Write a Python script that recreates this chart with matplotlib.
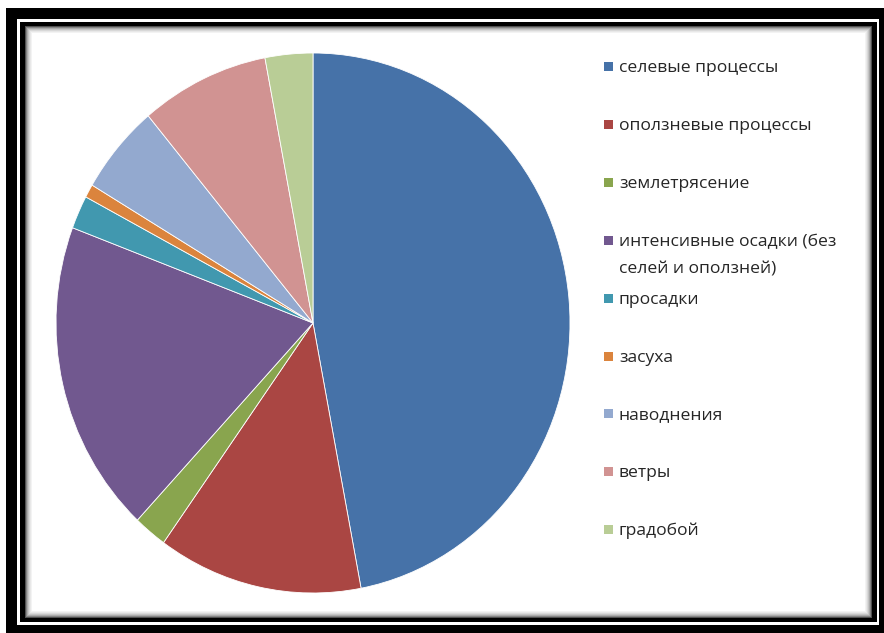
import matplotlib
matplotlib.use("Agg")
import matplotlib.pyplot as plt
from matplotlib.patches import Rectangle

# данные
labels = ["селевые процессы", "оползневые процессы", "землетрясение",
          "интенсивные осадки (без\nселей и оползней)", "просадки", "засуха",
          "наводнения", "ветры", "градобой"]
values = [47.1, 12.9, 2.1, 18.8, 2.0, 0.8, 5.4, 8.1, 3.0]
colors = ["#4672A8", "#AA4643", "#89A54E", "#71588F", "#4198AF",
          "#DB843D", "#93A9CF", "#D19392", "#B9CD96"]

W, H = 884, 633
fig = plt.figure(figsize=(W / 100, H / 100), dpi=100)
fig.patch.set_facecolor("white")

# рамка в пикселях
bg = fig.add_axes([0, 0, 1, 1])
bg.set_xlim(0, W)
bg.set_ylim(H, 0)
bg.axis("off")

def box(x0, y0, x1, y1, c):
    bg.add_patch(Rectangle((x0, y0), x1 - x0, y1 - y0, facecolor=c, edgecolor="none"))

box(6, 8, 884, 633, "black")
box(17, 19, 879, 625, "white")
box(20, 22, 877, 622, "black")
shades = ["#505050", "#858585", "#aaaaaa", "#c4c4c4", "#d8d8d8", "#e8e8e8", "#f3f3f3"]
for i, c in enumerate(shades):
    box(25 + i, 26 + i, 872 - i, 618 - i, c)
box(32, 33, 865, 611, "white")

# круговая диаграмма
cx, cy, rx, ry = 313, 323, 257, 270
ax = fig.add_axes([(cx - rx) / W, (H - cy - ry) / H, 2 * rx / W, 2 * ry / H])
ax.pie(values, colors=colors, startangle=90, counterclock=False,
       wedgeprops=dict(edgecolor="white", linewidth=0.6))
ax.set_aspect("auto")
ax.set_xlim(-1, 1)
ax.set_ylim(-1, 1)
ax.axis("off")

# легенда
y0, step = 67, 57.9
for i, (lab, c) in enumerate(zip(labels, colors)):
    y = y0 + i * step
    bg.add_patch(Rectangle((604, y - 5), 9, 9, facecolor=c, edgecolor="none"))
    for k, line in enumerate(lab.split("\n")):
        bg.text(619, y + 1 + k * 28, line, va="center", ha="left",
                fontsize=12.6, family="Open Sans", color="#262626")

fig.savefig("out.png", dpi=100)
